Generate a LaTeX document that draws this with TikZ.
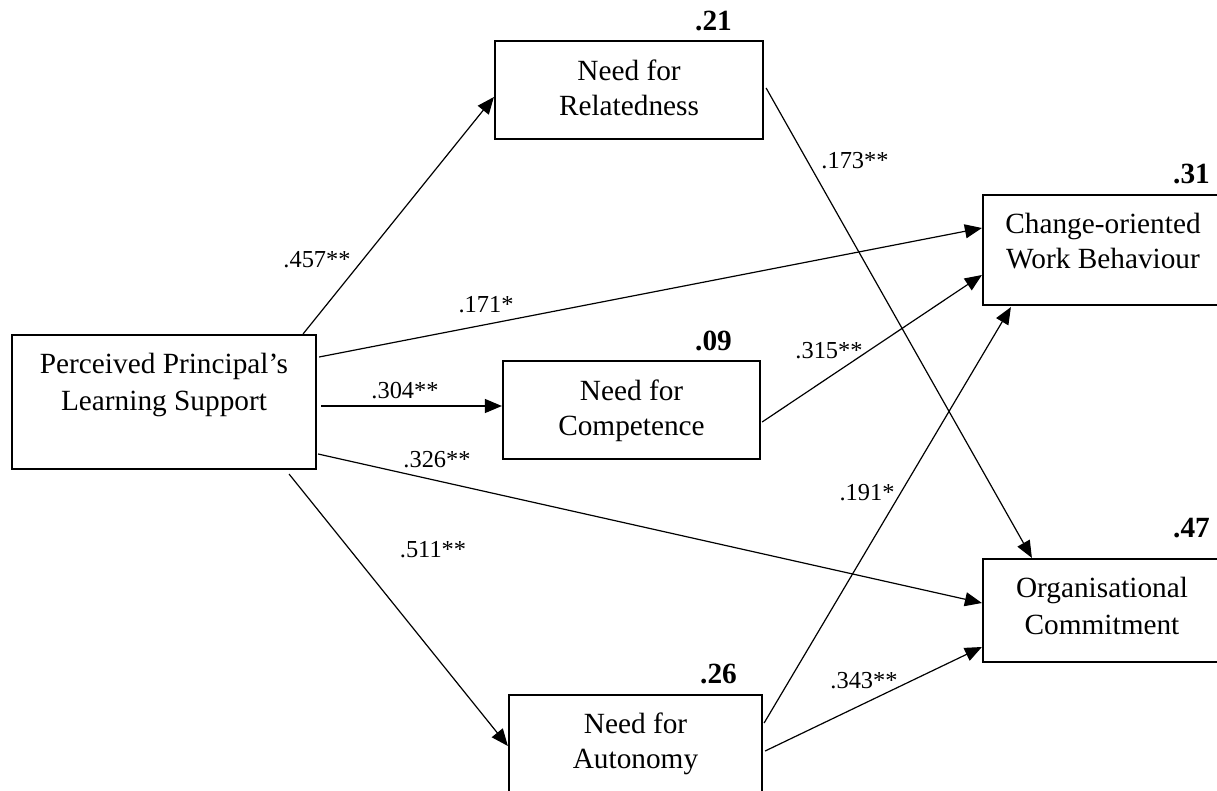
\documentclass[tikz,border=0pt]{standalone}
\usepackage{fontspec}
\setmainfont{Liberation Serif}
\usetikzlibrary{arrows.meta,calc}
\tikzset{
  boxnode/.style={draw, line width=2.2pt, rectangle, inner sep=0pt},
  boxtext/.style={anchor=base, inner sep=0pt, font=\fontsize{29.3}{36}\selectfont},
  rsq/.style={anchor=base east, inner sep=0pt, font=\fontsize{29.3}{36}\selectfont\bfseries},
  coef/.style={anchor=base, inner sep=0pt, font=\fontsize{24.4}{29}\selectfont},
  path/.style={line width=1.2pt, -{Triangle[length=17pt,width=14pt]}},
}
\begin{document}
\begin{tikzpicture}[x=1pt,y=-1pt]
\useasboundingbox (0,0) rectangle (1217,790);
\clip (0,0) rectangle (1217,790);
% boxes
\node[boxnode, minimum width=304pt, minimum height=134pt] (ppls) at (164,402) {};
\node[boxnode, minimum width=268pt, minimum height=98pt] (rel) at (629,90) {};
\node[boxnode, minimum width=257pt, minimum height=98pt] (comp) at (631.5,410) {};
\node[boxnode, minimum width=253pt, minimum height=98pt] (aut) at (635.5,744) {};
\node[boxnode, minimum width=257pt, minimum height=110pt] (chg) at (1111.5,250) {};
\node[boxnode, minimum width=257pt, minimum height=103pt] (org) at (1111.5,610.5) {};
% box texts
\node[boxtext] (pplsA) at (164,373) {Perceived Principal’s};
\node[boxtext] (pplsB) at (164,410) {Learning Support};
\node[boxtext] (relA) at (629,80) {Need for};
\node[boxtext] (relB) at (629,115) {Relatedness};
\node[boxtext] (compA) at (631.5,400) {Need for};
\node[boxtext] (compB) at (631.5,435) {Competence};
\node[boxtext] (autA) at (635.5,733) {Need for};
\node[boxtext] (autB) at (635.5,768) {Autonomy};
\node[boxtext] (chgA) at (1103,233) {Change-oriented};
\node[boxtext] (chgB) at (1103,268) {Work Behaviour};
\node[boxtext] (orgA) at (1102,597) {Organisational};
\node[boxtext] (orgB) at (1102,634) {Commitment};
% R squared
\node[rsq] (r21) at (732,30) {.21};
\node[rsq] (r09) at (732,350) {.09};
\node[rsq] (r26) at (737,683) {.26};
\node[rsq] (r31) at (1210,183) {.31};
\node[rsq] (r47) at (1210,537) {.47};
% paths
\draw[path] ($(ppls.north east)+(-14,0)$) -- ($(rel.west)+(0,7)$);
\draw[path] ($(ppls.east)+(2,-45)$) -- ($(chg.west)+(0,-22)$);
\draw[path] ($(ppls.east)+(4,4)$) -- ($(comp.west)+(0,-4)$);
\draw[path] ($(ppls.east)+(1,52)$) -- ($(org.west)+(0,-7.5)$);
\draw[path] ($(ppls.south east)+(-28,4)$) -- ($(aut.west)+(0,2)$);
\draw[path] ($(rel.east)+(2,-2)$) -- ($(org.north west)+(50,0)$);
\draw[path] ($(comp.east)+(1,12)$) -- ($(chg.west)+(0,25)$);
\draw[path] ($(aut.east)+(1,-21)$) -- ($(chg.south west)+(29,1)$);
\draw[path] ($(aut.east)+(2,7)$) -- ($(org.west)+(0,36.5)$);
% coefficients
\node[coef] (c1) at (317,267) {.457**};
\node[coef] (c2) at (486,312) {.171*};
\node[coef] (c3) at (405,398) {.304**};
\node[coef] (c4) at (437,467) {.326**};
\node[coef] (c5) at (433,557) {.511**};
\node[coef] (c6) at (855,168) {.173**};
\node[coef] (c7) at (829,358) {.315**};
\node[coef] (c8) at (867,500) {.191*};
\node[coef] (c9) at (864,688) {.343**};
\end{tikzpicture}
\end{document}
